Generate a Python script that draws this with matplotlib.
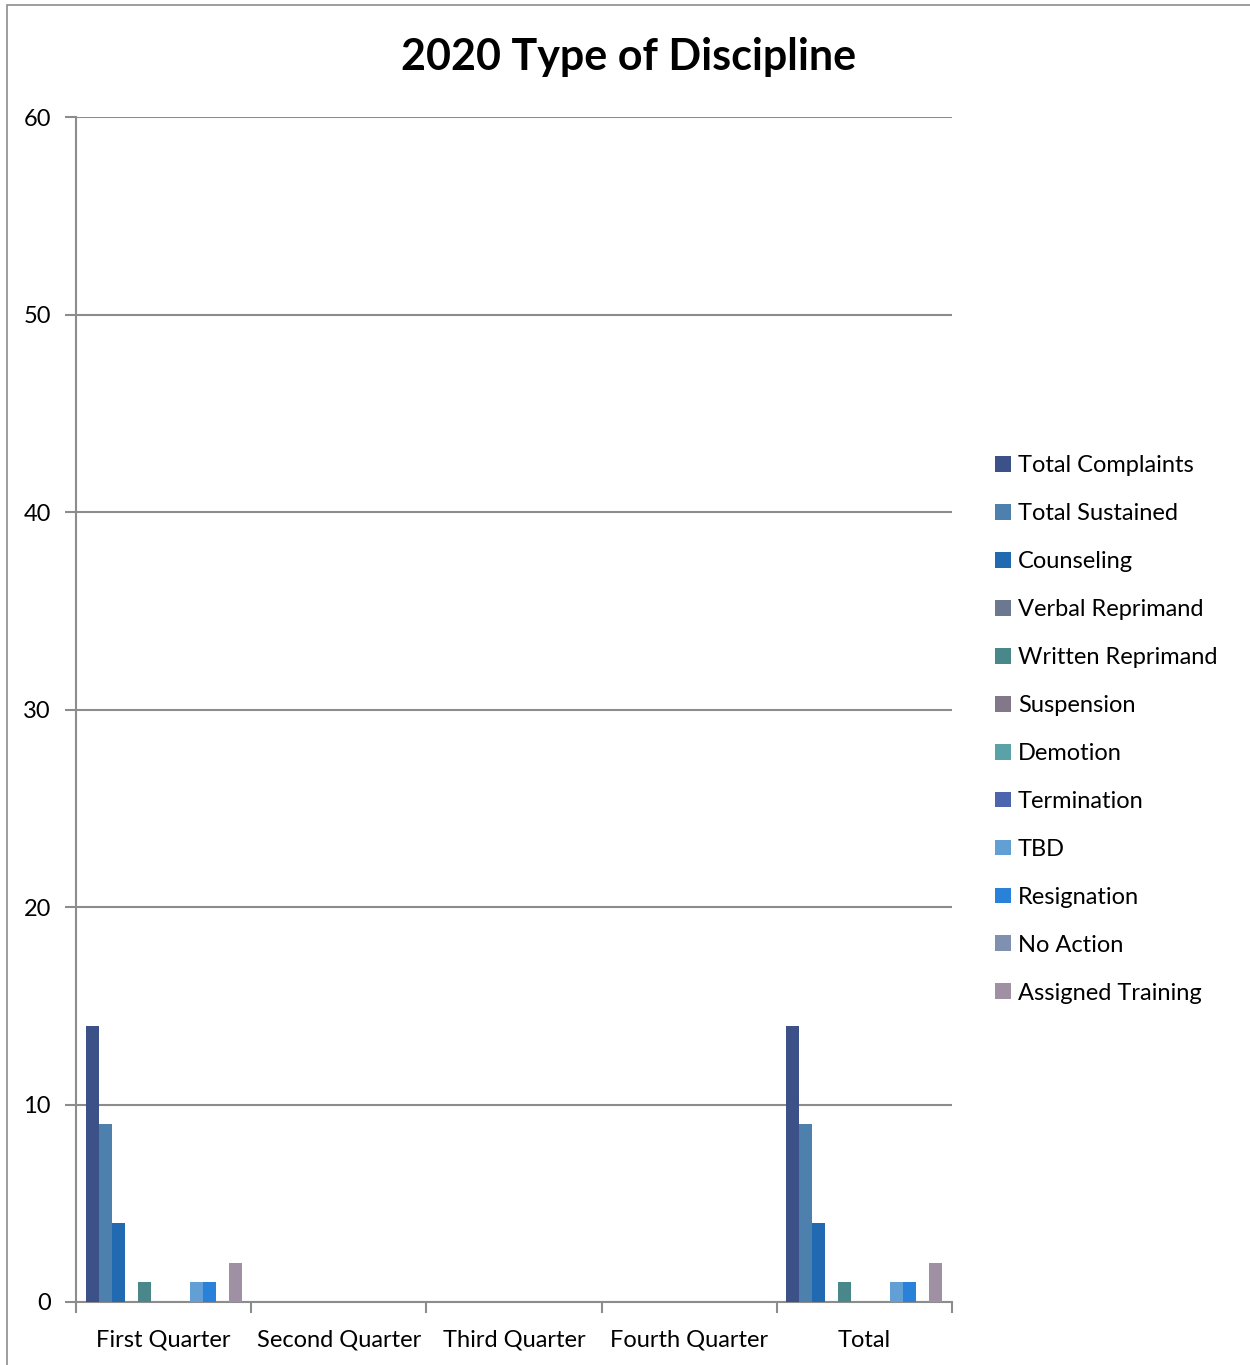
import numpy as np
import matplotlib.pyplot as plt
from matplotlib.patches import Rectangle

categories = ["First Quarter", "Second Quarter", "Third Quarter", "Fourth Quarter", "Total"]
series_names = ["Total Complaints", "Total Sustained", "Counseling", "Verbal Reprimand",
                "Written Reprimand", "Suspension", "Demotion", "Termination", "TBD",
                "Resignation", "No Action", "Assigned Training"]
# values per series, one entry per category
values = [
    [14, 0, 0, 0, 14],
    [9, 0, 0, 0, 9],
    [4, 0, 0, 0, 4],
    [0, 0, 0, 0, 0],
    [1, 0, 0, 0, 1],
    [0, 0, 0, 0, 0],
    [0, 0, 0, 0, 0],
    [0, 0, 0, 0, 0],
    [1, 0, 0, 0, 1],
    [1, 0, 0, 0, 1],
    [0, 0, 0, 0, 0],
    [2, 0, 0, 0, 2],
]
colors = ["#3D5189", "#4E80AE", "#2169B0", "#6C7890", "#49878A", "#82788A",
          "#5BA2A8", "#4C65AE", "#629FD5", "#2A81D9", "#7F91AE", "#9F91A3"]

plt.rcParams['font.family'] = ['Lato', 'DejaVu Sans']

fig = plt.figure(figsize=(12.5, 13.65), dpi=100)
ax = fig.add_axes([76 / 1250, 1 - 1302 / 1365, 876 / 1250, 1185 / 1365])

# outer chart border
fig.patches.append(Rectangle((7 / 1250, -0.01), 1.1, 1 - 5 / 1365 + 0.01,
                             transform=fig.transFigure, fill=False,
                             edgecolor="#8C8C8C", linewidth=1.2))

n = len(series_names)
bw = 0.89 / n
x = np.arange(len(categories))
for i, (name, vals, c) in enumerate(zip(series_names, values, colors)):
    ax.bar(x - 0.445 + bw * (i + 0.5), vals, width=bw, color=c, label=name,
           linewidth=0, zorder=3)

ax.set_xlim(-0.5, len(categories) - 0.5)
ax.set_ylim(0, 60)
ax.set_yticks(range(0, 61, 10))
ax.yaxis.grid(True, color="#8C8C8C", linewidth=1.5, zorder=0)
ax.set_xticks(x)
ax.set_xticklabels(categories, fontsize=17)
ax.set_xticks(np.arange(len(categories) + 1) - 0.5, minor=True)
ax.tick_params(axis="x", which="major", length=0, pad=20)
ax.tick_params(axis="x", which="minor", length=8, color="#8C8C8C", width=1.5)
ax.tick_params(axis="y", length=8, color="#8C8C8C", width=1.5, labelsize=17, pad=10)

for s in ["top", "right"]:
    ax.spines[s].set_visible(False)
for s in ["left", "bottom"]:
    ax.spines[s].set_color("#8C8C8C")
    ax.spines[s].set_linewidth(1.5)

fig.text(629 / 1250, 1 - 57 / 1365, "2020 Type of Discipline", ha="center", va="center",
         fontsize=31, fontweight="bold")

fig.legend(loc="upper left", bbox_to_anchor=(986 / 1250, 1 - 446 / 1365),
           frameon=False, fontsize=17, handlelength=0.65, handleheight=0.65,
           handletextpad=0.3, labelspacing=1.14, borderaxespad=0)

fig.savefig("out.png", dpi=100)
